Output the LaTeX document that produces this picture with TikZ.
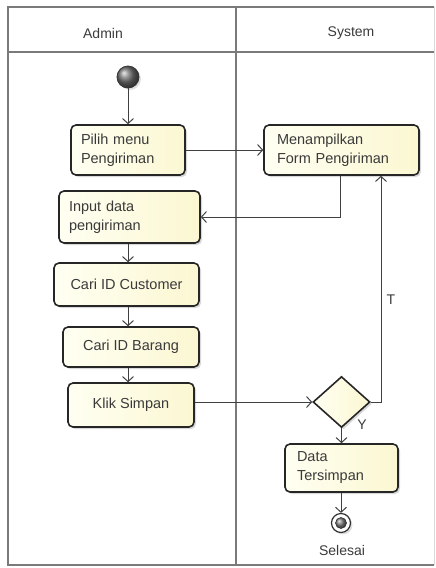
\documentclass[tikz,border=0pt]{standalone}
\usepackage{fontspec}
\setmainfont{Liberation Sans}
\usetikzlibrary{arrows.meta,shapes.geometric,shadows}
\definecolor{boxfill}{HTML}{FBF7D2}
\definecolor{boxlight}{HTML}{FFFFF2}
\definecolor{txt}{HTML}{3A3A3A}
\definecolor{frame}{HTML}{7A7A7A}
\tikzset{
  act/.style={draw=black!85, line width=1.6pt, rounded corners=5pt,
    left color=boxlight, right color=boxfill, text=txt,
    font=\fontsize{14.5}{19}\selectfont, inner sep=0pt,
    drop shadow={shadow xshift=2pt, shadow yshift=-2pt, opacity=0.25, fill=black!60}},
  acttext/.style={act, align=left},
  flow/.style={draw=black!75, line width=1pt, -{Straight Barb[length=5pt,width=11pt,line width=1pt]}},
  lbl/.style={text=txt, font=\fontsize{14}{17}\selectfont, inner sep=0pt},
  lane/.style={draw=frame, line width=1.4pt}
}
\begin{document}
\begin{tikzpicture}[x=1pt,y=-1pt]
\useasboundingbox (0,0) rectangle (436,568);
% swimlane frame
\draw[draw=black!15, line width=1pt] (434,7) -- (434,565);
\draw[lane] (434,7) -- (8,7) -- (8,565) -- (434,565);
\draw[lane] (8,52) -- (434,52);
\draw[lane] (236,7) -- (236,565);
\node[lbl] (hadmin) at (103,33) {Admin};
\node[lbl] (hsys) at (351,33) {System};
% nodes
\node[circle, minimum size=22pt, inner sep=0pt, draw=black!80, line width=0.8pt, ball color=black!55,
  drop shadow={shadow xshift=2pt, shadow yshift=-2pt, opacity=0.25}] (start) at (128,77) {};
\node[acttext, minimum width=114pt, minimum height=50pt, text width=94pt] (pilih) at (128,150) {Pilih menu\\Pengiriman};
\node[acttext, minimum width=155pt, minimum height=50pt, text width=129pt] (tampil) at (341.5,150) {Menampilkan\\Form Pengiriman};
\node[acttext, minimum width=141pt, minimum height=52pt, text width=121pt] (input) at (129.5,217) {Input data\\pengiriman};
\node[act, minimum width=145pt, minimum height=43pt] (cust) at (126.5,284.5) {Cari ID Customer};
\node[act, minimum width=136pt, minimum height=40pt] (barang) at (131,347) {Cari ID Barang};
\node[act, minimum width=126pt, minimum height=44pt] (klik) at (131,405) {Klik Simpan};
\node[diamond, draw=black!85, line width=1.6pt, left color=boxlight, right color=boxfill,
  minimum width=57pt, minimum height=51pt, inner sep=0pt, aspect=1.1,
  drop shadow={shadow xshift=2pt, shadow yshift=-2pt, opacity=0.25, fill=black!60}] (dec) at (341.5,402) {};
\node[acttext, minimum width=113pt, minimum height=48pt, text width=89pt] (data) at (341.5,468) {Data\\Tersimpan};
\node[circle, minimum size=19pt, inner sep=0pt, draw=black!80, line width=1.2pt, fill=white,
  drop shadow={shadow xshift=2pt, shadow yshift=-2pt, opacity=0.25}] (end) at (341,523) {};
\node[circle, minimum size=11pt, inner sep=0pt, draw=black!80, line width=0.6pt, ball color=black!50] (endin) at (end.center) {};
\node[lbl] (selesai) at (342,550) {Selesai};
% connectors
\draw[flow] (start) -- (pilih);
\draw[flow] (pilih) -- (tampil);
\draw[flow] ([xshift=-1.5pt]tampil.south) |- (input.east);
\draw[flow] (input.south -| start) -- (cust.north -| start);
\draw[flow] (cust.south -| start) -- (barang.north -| start);
\draw[flow] (barang.south -| start) -- (klik.north -| start);
\draw[flow] (klik.east |- dec) -- (dec.west);
\draw[flow] (dec.east) -| ([xshift=39.5pt]tampil.south);
\node[lbl] (tlabel) at (391,300) {T};
\draw[flow] (dec.south) -- (data.north);
\node[lbl] (ylabel) at (362,425) {Y};
\draw[flow] (data.south -| end) -- (end.north);
\end{tikzpicture}
\end{document}
